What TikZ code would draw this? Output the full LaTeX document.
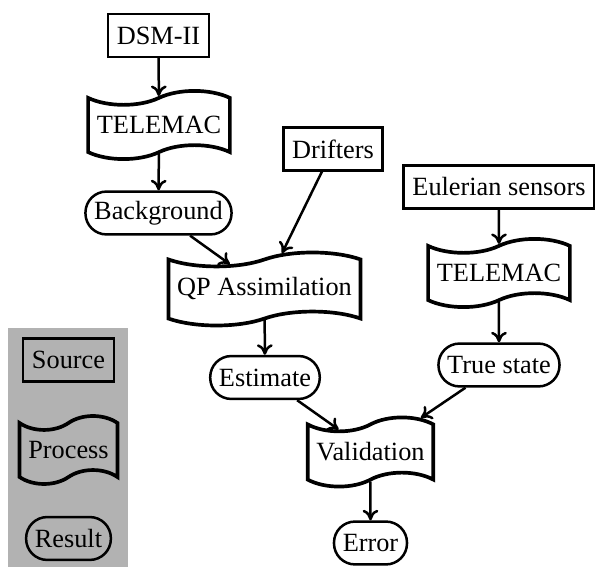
\documentclass[tikz,border=0pt]{standalone}
\usepackage{fontspec}
\setmainfont{Liberation Serif}
\usetikzlibrary{shapes.symbols,arrows.meta}
\begin{document}
\begin{tikzpicture}[x=0.3802pt,y=-0.3802pt,
  srcbox/.style={draw,line width=0.95pt,rectangle,minimum height=16.3pt},
  procbox/.style={draw,line width=1.4pt,tape,inner ysep=4.3pt,tape bend height=5.3pt},
  resbox/.style={draw,line width=0.95pt,rectangle,rounded corners=8pt,minimum height=16.3pt},
  arr/.style={-{To[length=4pt,width=6pt]},line width=0.95pt}]
\useasboundingbox (0,0) rectangle (595,567);
\fill[black!30] (8,328) rectangle (128,567);
% main flow
\node[srcbox] (dsm) at (158.5,35.5) {DSM-II};
\node[procbox] (tel1) at (159,125) {TELEMAC};
\node[resbox] (bg) at (158.5,213) {Background};
\node[srcbox] (drift) at (333,149) {Drifters};
\node[procbox] (qp) at (264.5,289) {QP Assimilation};
\node[resbox] (est) at (265,377.5) {Estimate};
\node[srcbox] (eul) at (499,187) {Eulerian sensors};
\node[procbox] (tel2) at (499,273) {TELEMAC};
\node[resbox] (true) at (499,365) {True state};
\node[procbox] (val) at (370.5,452) {Validation};
\node[resbox] (err) at (370.5,543) {Error};
% legend
\node[srcbox] (lsrc) at (68.5,360) {Source};
\node[procbox] (lproc) at (68.5,450) {Process};
\node[resbox] (lres) at (68.5,538.5) {Result};
% connectors
\draw[arr] (dsm) -- (tel1);
\draw[arr] (tel1) -- (bg);
\draw[arr] (bg) -- (qp);
\draw[arr] (drift) -- (qp);
\draw[arr] (qp) -- (est);
\draw[arr] (eul) -- (tel2);
\draw[arr] (tel2) -- (true);
\draw[arr] (est) -- (val);
\draw[arr] (true) -- (val);
\draw[arr] (val) -- (err);
\end{tikzpicture}
\end{document}
